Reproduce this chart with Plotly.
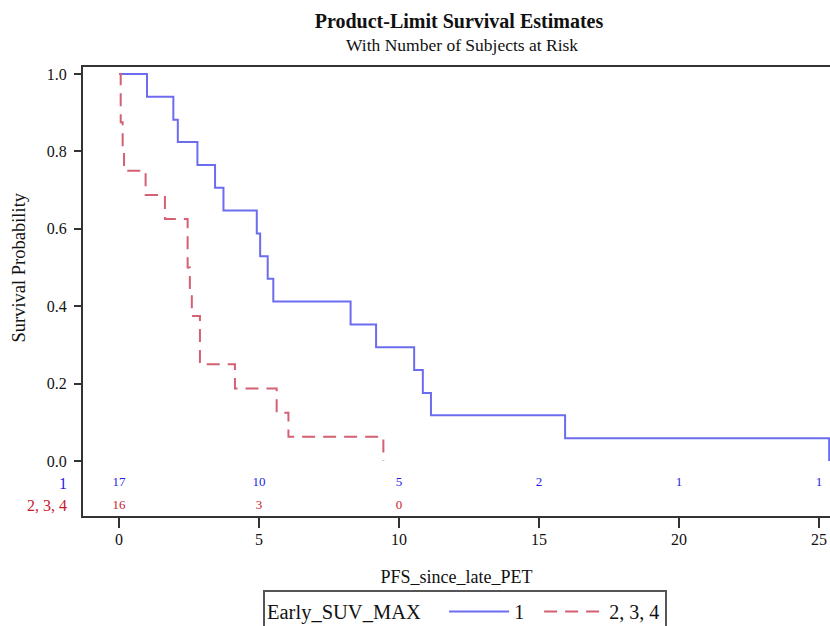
import plotly.graph_objects as go

# ---- data ----
times_g1 = [0, 1.0, 1.94, 2.1, 2.8, 3.43, 3.73, 4.92, 5.04, 5.31, 5.51, 8.27, 9.18, 10.54, 10.85, 11.14, 15.93, 25.36]
surv_g1 = [1.0, 0.941, 0.882, 0.824, 0.765, 0.706, 0.647, 0.588, 0.529, 0.471, 0.412, 0.353, 0.294, 0.235, 0.176, 0.118, 0.059, 0.0]

times_g2 = [0, 0.06, 0.13, 0.18, 0.95, 1.64, 2.45, 2.53, 2.60, 2.89, 4.14, 5.63, 6.05, 9.44]
surv_g2 = [1.0, 0.875, 0.8125, 0.75, 0.6875, 0.625, 0.5, 0.4375, 0.375, 0.25, 0.1875, 0.125, 0.0625, 0.0]

risk_times_g1 = [0, 5, 10, 15, 20, 25]
risk_g1 = [17, 10, 5, 2, 1, 1]
risk_times_g2 = [0, 5, 10]
risk_g2 = [16, 3, 0]

group_names = ["1", "2, 3, 4"]
x_ticks = [0, 5, 10, 15, 20, 25]
y_ticks = [0.0, 0.2, 0.4, 0.6, 0.8, 1.0]

# ---- styling ----
SERIF = "Liberation Serif, Times New Roman, serif"
BLUE_LINE = "rgb(108,108,240)"
RED_LINE = "rgb(212,96,114)"
BLUE_TXT = "rgb(30,30,230)"
RED_TXT = "rgb(200,25,45)"
RISK_Y = [-0.057, -0.116]
NBSP = "\u00a0"

W, H = 830, 626
L, T = 83, 67
B = H - 516
PW, PH = W - L, H - T - B


def px_x(p):  # window pixel -> paper x
    return (p - L) / PW


def px_y(p):  # window pixel -> paper y
    return (H - B - p) / PH


fig = go.Figure()
fig.add_trace(go.Scatter(x=times_g1, y=surv_g1, mode="lines", line_shape="hv",
                         line=dict(color=BLUE_LINE, width=2),
                         name=group_names[0] + NBSP * 2))
fig.add_trace(go.Scatter(x=times_g2, y=surv_g2, mode="lines", line_shape="hv",
                         line=dict(color=RED_LINE, width=2, dash="13px,8px"),
                         name=group_names[1]))

fig.add_trace(go.Scatter(x=risk_times_g1, y=[RISK_Y[0]] * len(risk_g1), mode="text",
                         text=[str(v) for v in risk_g1], showlegend=False,
                         textfont=dict(family=SERIF, size=13, color=BLUE_TXT), cliponaxis=False))
fig.add_trace(go.Scatter(x=risk_times_g2, y=[RISK_Y[1]] * len(risk_g2), mode="text",
                         text=[str(v) for v in risk_g2], showlegend=False,
                         textfont=dict(family=SERIF, size=13, color=RED_TXT), cliponaxis=False))

fig.add_annotation(text=group_names[0], xref="paper", yref="y", x=px_x(69), y=RISK_Y[0],
                   xanchor="right", yanchor="middle", showarrow=False,
                   font=dict(family=SERIF, size=16, color=BLUE_TXT))
fig.add_annotation(text=group_names[1], xref="paper", yref="y", x=px_x(69), y=RISK_Y[1],
                   xanchor="right", yanchor="middle", showarrow=False,
                   font=dict(family=SERIF, size=16, color=RED_TXT))

fig.add_annotation(text="With Number of Subjects at Risk", xref="paper", yref="paper",
                   x=px_x(462), y=px_y(45), xanchor="center", yanchor="middle", showarrow=False,
                   font=dict(family=SERIF, size=17.5, color="#111"))

fig.add_annotation(text="Survival Probability", xref="paper", yref="y", textangle=-90,
                   x=px_x(18), y=0.5, xanchor="center", yanchor="middle", showarrow=False,
                   font=dict(family=SERIF, size=18.5, color="#111"))

fig.update_layout(
    width=W, height=H,
    margin=dict(l=L, r=0, t=T, b=B, autoexpand=False),
    paper_bgcolor="white", plot_bgcolor="white",
    title=dict(text="<b>Product-Limit Survival Estimates</b>", x=459 / W, y=1 - 21 / H,
               xanchor="center", yanchor="middle", xref="container", yref="container",
               font=dict(family=SERIF, size=20, color="#111")),
    xaxis=dict(range=[-1.286, 25.39], tickvals=x_ticks, ticks="outside", ticklen=10, tickwidth=2,
               tickcolor="#333", showline=True, linecolor="#333", linewidth=2, mirror=True,
               showgrid=False, zeroline=False, ticklabelstandoff=-2, automargin=False,
               tickfont=dict(family=SERIF, size=16, color="#111"),
               title=dict(text="PFS_since_late_PET", standoff=23,
                          font=dict(family=SERIF, size=18, color="#111"))),
    yaxis=dict(range=[-0.142, 1.018], tickvals=y_ticks, tickformat=".1f", ticks="outside",
               ticklen=7, tickwidth=2, tickcolor="#333", showline=True, linecolor="#333",
               linewidth=2, showgrid=False, zeroline=False, ticklabelstandoff=4,
               automargin=False,
               tickfont=dict(family=SERIF, size=16, color="#111")),
    legend=dict(orientation="h", xref="container", yref="container",
                x=263 / W, y=1 - 590 / H,
                xanchor="left", yanchor="top", bordercolor="#555", borderwidth=2,
                itemwidth=60,
                font=dict(family=SERIF, size=20, color="#111"),
                title=dict(text="Early_SUV_MAX" + NBSP * 3, side="left",
                           font=dict(family=SERIF, size=20.5, color="#111"))),
)

fig.write_html("out.html", config={"displayModeBar": False},
               post_script="document.body.style.margin='0';document.body.style.overflow='hidden';")
